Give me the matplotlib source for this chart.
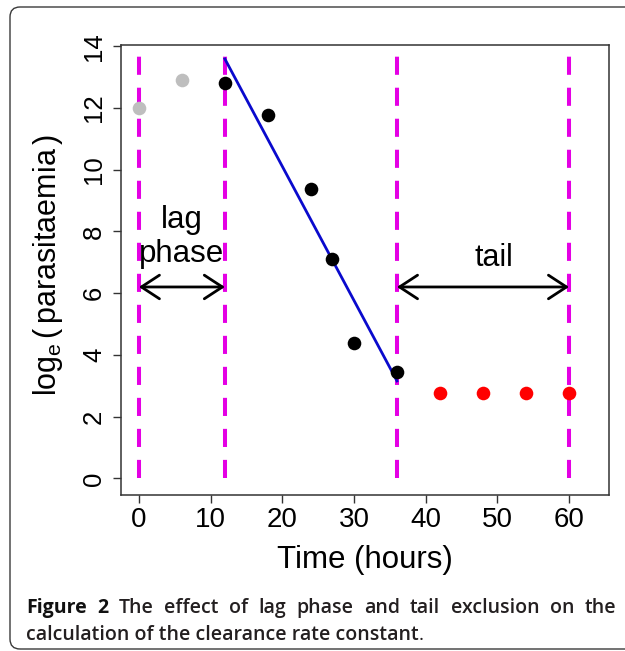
import numpy as np
import matplotlib
matplotlib.use("Agg")
import matplotlib.pyplot as plt
from matplotlib.patches import FancyBboxPatch

plt.rcParams['font.family'] = ['Liberation Sans', 'DejaVu Sans']
plt.rcParams['mathtext.fontset'] = 'custom'
plt.rcParams['mathtext.rm'] = 'Liberation Sans'
plt.rcParams['mathtext.it'] = 'Liberation Sans'

# ---- data ----
lag_t = [0, 6]
lag_y = [12.0, 12.9]
fit_t = [12, 18, 24, 27, 30, 36]
fit_y = [12.82, 11.76, 9.39, 7.12, 4.38, 3.46]
tail_t = [42, 48, 54, 60]
tail_y = [2.76, 2.76, 2.76, 2.76]
cut_t = [0, 12, 36, 60]
x_ticks = [0, 10, 20, 30, 40, 50, 60]
y_ticks = [0, 2, 4, 6, 8, 10, 12, 14]
arrow_y = 6.2

W, H = 625, 651
fig = plt.figure(figsize=(W / 100, H / 100), dpi=100)
ax = fig.add_axes([120.8 / W, 1 - 495 / H, (608.6 - 120.8) / W, (495 - 45) / H])

# vertical dashed cut lines
for t in cut_t:
    ax.plot([t, t], [0, 14], color='#E400E4', lw=2.9,
            dashes=(4.5, 3.2), solid_capstyle='butt', dash_capstyle='butt', zorder=2)

# regression line
coef = np.polyfit(fit_t, fit_y, 1)
xx = np.array([min(fit_t), max(fit_t)])
ax.plot(xx, np.polyval(coef, xx), color='#0A0ACD', lw=2.0, zorder=3)

ms = 9.8
ax.plot(lag_t, lag_y, 'o', color='#BEBEBE', ms=ms, mec='none', zorder=4)
ax.plot(fit_t, fit_y, 'o', color='black', ms=ms, mec='none', zorder=4)
ax.plot(tail_t, tail_y, 'o', color='#FF0000', ms=ms, mec='none', zorder=4)

# arrows
for a, b in [(cut_t[0], cut_t[1]), (cut_t[2], cut_t[3])]:
    ax.annotate('', xy=(a, arrow_y), xytext=(b, arrow_y),
                arrowprops=dict(arrowstyle='<->,head_length=1.3,head_width=0.85',
                                lw=2.0, color='black', shrinkA=0, shrinkB=0,
                                mutation_scale=10), zorder=5)

ax.text(6, 8.1, 'lag', ha='center', va='baseline', fontsize=22.5)
ax.text(6, 7.0, 'phase', ha='center', va='baseline', fontsize=22.5)
ax.text(49.5, 6.88, 'tail', ha='center', va='baseline', fontsize=22)

ax.set_xlim(-2.52, 65.52)
ax.set_ylim(-0.54, 14.04)
ax.set_xticks(x_ticks)
ax.set_yticks(y_ticks)
ax.tick_params(axis='both', length=5.5, width=1.0, color='#333333')
ax.tick_params(axis='x', pad=3, labelsize=20)
ax.tick_params(axis='y', pad=5, labelsize=18.5)
for lab in ax.get_yticklabels():
    lab.set_rotation(90)
    lab.set_va('center')
for s in ax.spines.values():
    s.set_color('#333333')
    s.set_linewidth(1.1)

ax.set_xlabel('Time (hours)', fontsize=22.5, labelpad=9)
ax.set_ylabel(r'$\mathregular{log_e\,(\,parasitaemia\,)}$', fontsize=22)
ax.yaxis.set_label_coords((48 - 120.8) / 487.8, 0.51)
ax.yaxis.label.set_va('center')

# frame
frame = FancyBboxPatch((10, 651 - 649), 800, 649 - 7,
                       boxstyle='round,pad=0,rounding_size=10',
                       transform=None, fill=False, ec='#3a3a3a', lw=1.0)
fig.patches.append(frame)

# caption (justified first line)
cap_col = '#231F20'
cap_fs = 14
x0, x1 = 26, 616
y1, y2 = 651 - 613, 651 - 640
line1 = ['Figure', '2', 'The', 'effect', 'of', 'lag', 'phase', 'and',
         'tail', 'exclusion', 'on', 'the']
fig.canvas.draw()
r = fig.canvas.get_renderer()
objs = []
for i, w in enumerate(line1):
    t = fig.text(0, y1 / H, w, fontsize=cap_fs, fontweight='bold' if i < 2 else 'semibold',
                 family='Open Sans', color='#111111' if i < 2 else cap_col,
                 va='baseline', ha='left')
    objs.append(t)
widths = [t.get_window_extent(r).width for t in objs]
gap = (x1 - x0 - sum(widths)) / (len(objs) - 1)
x = x0
for t, w in zip(objs, widths):
    t.set_x(x / W)
    x += w + gap
t2 = fig.text(x0 / W, y2 / H, 'calculation of the clearance rate constant', fontsize=cap_fs,
              fontweight='semibold', family='Open Sans', color=cap_col, va='baseline')
bb = t2.get_window_extent(r)
fig.text(bb.x1 / W, y2 / H, '.', fontsize=cap_fs, fontweight='normal', family='Open Sans',
         color=cap_col, va='baseline')

fig.savefig('out.png', dpi=100)
